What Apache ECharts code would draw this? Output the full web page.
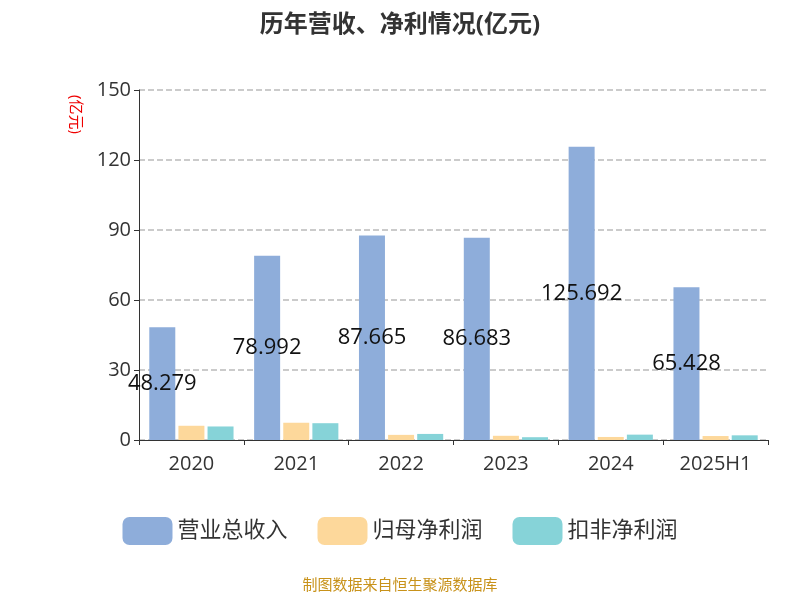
<!DOCTYPE html>
<html><head><meta charset="utf-8">
<script src="https://cdn.jsdelivr.net/npm/echarts@6/dist/echarts.min.js"></script>
<style>html,body{margin:0;padding:0}#c{width:800px;height:600px}</style>
</head><body><div id="c"></div>
<script>
const categories = ['2020','2021','2022','2023','2024','2025H1'];
const revenue = [48.279,78.992,87.665,86.683,125.692,65.428];
const netProfit = [6.1,7.4,2.2,1.8,1.3,1.7];
const deductedProfit = [5.8,7.2,2.6,1.2,2.3,2.0];
const yTicks = [0,30,60,90,120,150];
const chart = echarts.init(document.getElementById('c'));
const font = '"Open Sans", "Noto Sans CJK SC"';
chart.setOption({
  textStyle:{fontFamily:font},
  title:{text:'历年营收、净利情况(亿元)',left:'center',top:8,textStyle:{fontSize:24,fontWeight:'bold',color:'#333',fontFamily:font}},
  grid:{left:139,right:32,top:90,bottom:160},
  legend:{bottom:50,itemWidth:50,itemHeight:28,itemGap:30,textStyle:{fontSize:22,color:'#333'},
    data:['营业总收入','归母净利润','扣非净利润']},
  graphic:[{type:'text',left:'center',top:578,style:{text:'制图数据来自恒生聚源数据库',fill:'#c8921a',fontSize:15,fontFamily:font}},
    {type:'text',left:68,top:95,style:{text:'(亿元)',fill:'#e00',fontSize:15,fontFamily:font},rotation:-Math.PI/2,originX:0,originY:0}],
  xAxis:{type:'category',data:categories,axisLine:{lineStyle:{color:'#333'}},axisTick:{show:true,lineStyle:{color:'#333'}},
    axisLabel:{fontSize:20,color:'#333',margin:14}},
  yAxis:{type:'value',min:yTicks[0],max:yTicks[yTicks.length-1],interval:30,
    axisLine:{show:true,lineStyle:{color:'#333'}},axisTick:{show:true},
    axisLabel:{fontSize:20,color:'#333'},
    splitLine:{lineStyle:{type:'dashed',color:'#bbb',width:1.5}}},
  series:[
    {name:'营业总收入',type:'bar',data:revenue,barWidth:26,barGap:'12%',itemStyle:{color:'#8eadda'},
     label:{show:true,position:'inside',fontSize:22,color:'#111'}},
    {name:'归母净利润',type:'bar',data:netProfit,barWidth:26,barGap:'12%',itemStyle:{color:'#fdd89b'}},
    {name:'扣非净利润',type:'bar',data:deductedProfit,barWidth:26,barGap:'12%',itemStyle:{color:'#86d3d8'}}
  ]
});
</script></body></html>
